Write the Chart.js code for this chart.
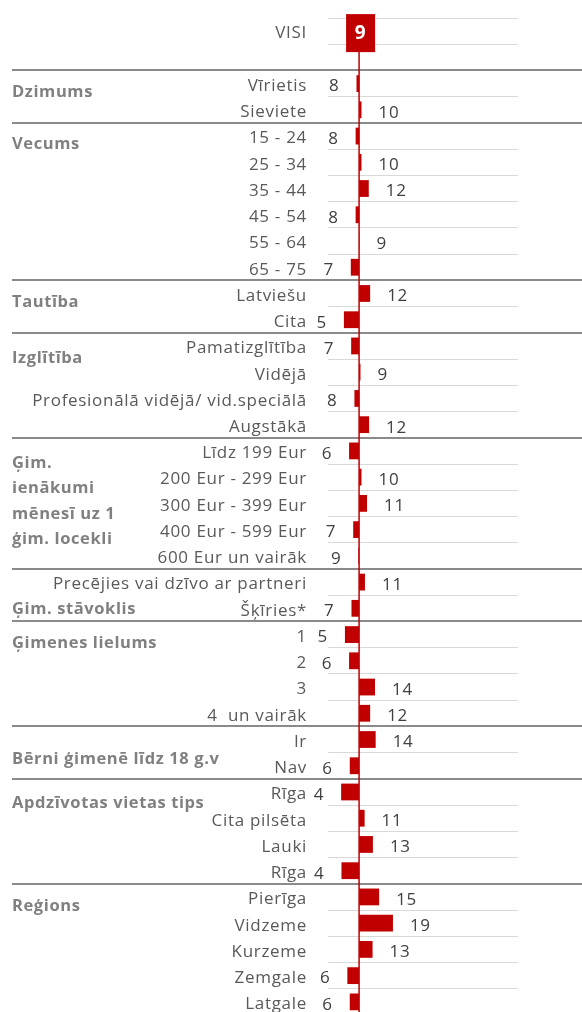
<!DOCTYPE html>
<html>
<head>
<meta charset="utf-8">
<script src="https://cdn.jsdelivr.net/npm/chart.js@4.4.1/dist/chart.umd.min.js"></script>
<style>
  html, body { margin: 0; padding: 0; background: #fff; overflow: hidden; }
  #wrap { width: 582px; height: 1016px; position: relative; }
</style>
</head>
<body>
<div id="wrap"><canvas id="grafico"></canvas></div>
<script>
// rindas (tukšā rinda aiz VISI ir tikai atstarpe)
const categories = ['VISI', '', 'Vīrietis', 'Sieviete', '15 - 24', '25 - 34', '35 - 44', '45 - 54', '55 - 64', '65 - 75',
  'Latviešu', 'Cita', 'Pamatizglītība', 'Vidējā', 'Profesionālā vidējā/ vid.speciālā', 'Augstākā',
  'Līdz 199 Eur', '200 Eur - 299 Eur', '300 Eur - 399 Eur', '400 Eur - 599 Eur', '600 Eur un vairāk',
  'Precējies vai dzīvo ar partneri', 'Šķīries*', '1', '2', '3', '4  un vairāk', 'Ir', 'Nav',
  'Rīga', 'Cita pilsēta', 'Lauki', 'Rīga', 'Pierīga', 'Vidzeme', 'Kurzeme', 'Zemgale', 'Latgale'];

const visiValue = 9;

const values = [null, null, 8.25, 9.7, 8.0, 9.7, 11.8, 8.0, 9.1, 6.6,
  12.2, 4.6, 6.7, 9.4, 7.65, 11.9,
  6.1, 9.7, 11.3, 7.3, 8.8,
  10.7, 6.8, 4.9, 6.1, 13.6, 12.2, 13.8, 6.3,
  3.8, 10.6, 13.0, 3.9, 14.8, 18.8, 12.9, 5.6, 6.3];

const groupNames = [['Dzimums'], ['Vecums'], ['Tautība'], ['Izglītība'],
  ['Ģim.', 'ienākumi', 'mēnesī uz 1', 'ģim. locekli'], ['Ģim. stāvoklis'], ['Ģimenes lielums'],
  ['Bērni ģimenē līdz 18 g.v'], ['Apdzīvotas vietas tips'], ['Reģions']];
const groupStart = [2, 4, 10, 12, 16, 21, 23, 27, 29, 33];

// nobīde rindās grupas nosaukumam (izkārtojums)
const groupLabelShift = [0.28, 0.27, 0.29, 0.42, 0.42, 0.98, 0.28, 0.70, 0.41, 0.30];

const FONT = '"Open Sans", sans-serif';
const RED = '#c00000';
const SPACING = '0.7px';

const overlay = {
  id: 'overlay',
  beforeDraw(chart) {
    // teksts ir nedaudz platāks kā oriģinālā
    chart.ctx.letterSpacing = SPACING;
    // kategoriju nosaukumi mazliet zemāk
    chart.scales.y.getLabelItems(chart.chartArea).forEach(it => {
      if (!it._moved) { it.textOffset += 2.5; it._moved = true; }
    });
  },
  afterDatasetsDraw(chart) {
    const ctx = chart.ctx;
    const x = chart.scales.x, y = chart.scales.y;
    const area = chart.chartArea;
    const rowH = y.getPixelForValue(1) - y.getPixelForValue(0);
    const cx = x.getPixelForValue(visiValue);
    ctx.save();
    ctx.letterSpacing = SPACING;

    // atdalītāji starp grupām
    ctx.strokeStyle = '#8a8a8a';
    ctx.lineWidth = 2;
    groupStart.forEach(s => {
      const yy = Math.round(y.getPixelForValue(s) - rowH / 2);
      ctx.beginPath();
      ctx.moveTo(12, yy);
      ctx.lineTo(chart.width, yy);
      ctx.stroke();
    });

    // VISI lodziņš
    const vy = y.getPixelForValue(0);
    const boxTop = vy - 17;
    const boxH = 38;
    ctx.fillStyle = RED;
    ctx.fillRect(cx - 13, boxTop, 29, boxH);
    ctx.fillStyle = '#fff';
    ctx.font = 'bold 19px ' + FONT;
    ctx.textAlign = 'center';
    ctx.textBaseline = 'middle';
    ctx.fillText(String(visiValue), cx + 1.5, vy + 2.5);

    // vidējā līnija
    ctx.strokeStyle = RED;
    ctx.lineWidth = 1.5;
    ctx.beginPath();
    ctx.moveTo(cx, boxTop + boxH);
    ctx.lineTo(cx, area.bottom);
    ctx.stroke();

    // vērtību uzraksti
    ctx.font = '17px ' + FONT;
    ctx.fillStyle = '#404040';
    values.forEach((v, i) => {
      if (v == null) return;
      const px = x.getPixelForValue(v);
      const py = y.getPixelForValue(i) + 3;
      if (v >= visiValue) {
        ctx.textAlign = 'left';
        ctx.fillText(String(Math.round(v)), px + 17, py);
      } else {
        ctx.textAlign = 'right';
        ctx.fillText(String(Math.round(v)), px - 17, py);
      }
    });

    // grupu nosaukumi
    ctx.font = 'bold 16.5px ' + FONT;
    ctx.letterSpacing = '0.6px';
    ctx.fillStyle = '#808080';
    ctx.textAlign = 'left';
    groupNames.forEach((lines, g) => {
      const y0 = y.getPixelForValue(groupStart[g]) + groupLabelShift[g] * rowH + 1;
      lines.forEach((t, k) => ctx.fillText(t, 12, y0 + k * 25.5));
    });
    ctx.restore();
  }
};

new Chart(document.getElementById('grafico'), {
  type: 'bar',
  data: {
    labels: categories,
    datasets: [{
      data: values.map(v => v == null ? null : [visiValue, v]),
      backgroundColor: RED,
      borderWidth: 0,
      barPercentage: 0.64,
      categoryPercentage: 1
    }]
  },
  options: {
    indexAxis: 'y',
    responsive: true,
    maintainAspectRatio: false,
    animation: false,
    layout: { padding: { top: 18, right: 64, bottom: 1, left: 0 } },
    plugins: { legend: { display: false }, tooltip: { enabled: false } },
    scales: {
      x: {
        type: 'linear', min: 0, max: 55, display: false
      },
      y: {
        afterFit(scale) {
          scale.width = 328;
          scale.paddingTop = 0;
          scale.paddingBottom = 0;
        },
        border: { display: false },
        grid: { color: '#d9d9d9', lineWidth: 1, drawTicks: false, offset: true },
        ticks: {
          autoSkip: false,
          padding: 21,
          color: '#595959',
          font: { family: FONT, size: 17 }
        }
      }
    }
  },
  plugins: [overlay]
});
</script>
</body>
</html>
